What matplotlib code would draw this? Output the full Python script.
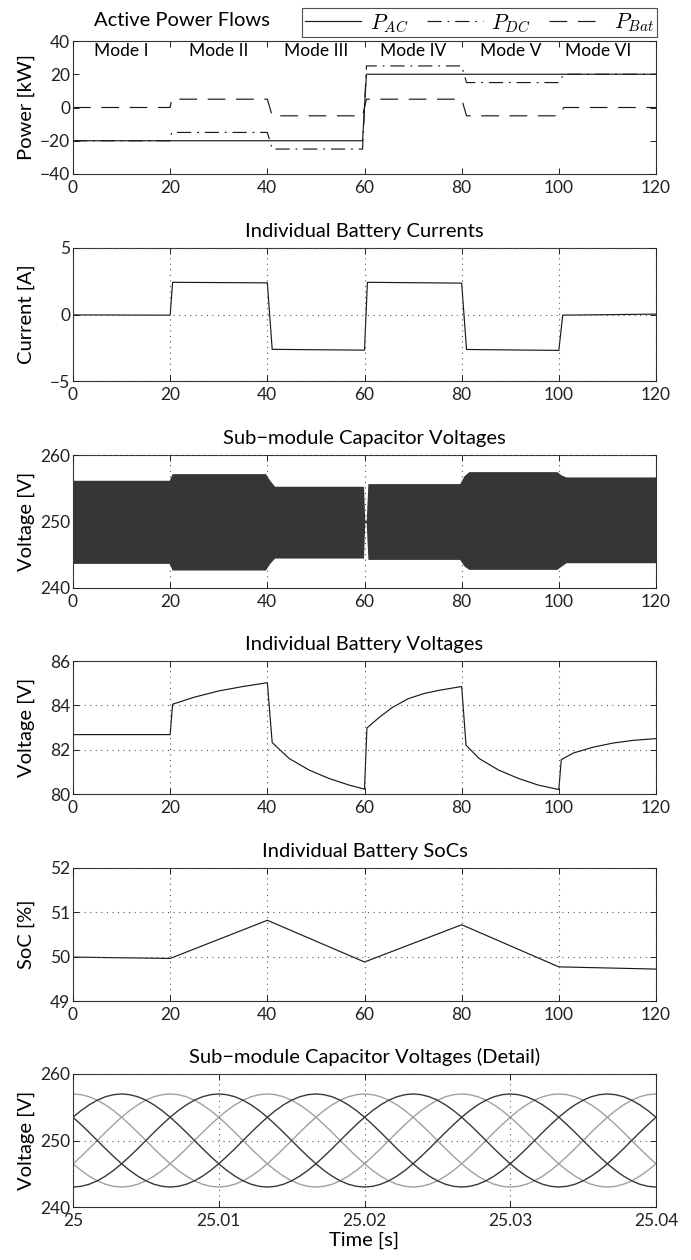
import numpy as np
import matplotlib
matplotlib.use("Agg")
import matplotlib.pyplot as plt

# ---------------- data ----------------
# Panel 1: active power flows [kW]
t_pac = [0, 59.6, 60.4, 120]
p_ac = [-20, -20, 20, 20]
t_pdc = [0, 20, 20.3, 40, 41, 59.6, 60.4, 80, 81, 100, 101, 120]
p_dc = [-20, -20, -15, -15, -25, -25, 25, 25, 15, 15, 20, 20]
t_pbat = [0, 20, 20.3, 40, 41, 59.6, 60.4, 80, 81, 100, 101, 120]
p_bat = [0, 0, 5, 5, -5, -5, 5, 5, -5, -5, 0, 0]
mode_labels = ["Mode I", "Mode II", "Mode III", "Mode IV", "Mode V", "Mode VI"]
mode_centers = [10, 30, 50, 70, 90, 108]

# Panel 2: battery currents [A]
t_ib = [0, 20, 20.5, 40, 41, 60, 60.6, 80, 81, 100, 100.8, 120]
i_b = [-0.03, -0.05, 2.42, 2.38, -2.62, -2.68, 2.42, 2.36, -2.63, -2.70, -0.05, 0.03]

# Panel 3: capacitor voltage envelope [V]
t_cap = [0, 19.8, 20.4, 39.6, 40.5, 41.5, 59.8, 60.05, 60.35, 60.7, 79.6, 80.5, 81.5,
         99.6, 100.5, 101.5, 120]
cap_hi = [256.2, 256.2, 257.2, 257.2, 256.2, 255.3, 255.3, 250.2, 250.2, 255.7, 255.7,
          256.9, 257.5, 257.5, 257.0, 256.7, 256.7]
cap_lo = [243.7, 243.7, 242.7, 242.7, 243.7, 244.5, 244.5, 249.8, 249.8, 244.3, 244.3,
          243.3, 242.8, 242.8, 243.3, 243.8, 243.8]

# Panel 4: battery voltages [V]
t_vb = [0, 20, 20.5, 25, 30, 35, 40, 41, 44.5, 48.6, 52.7, 56.7, 60, 60.5, 63, 65.7,
        69, 72.2, 75.4, 80, 80.9, 83.6, 87.6, 91.7, 95.8, 100, 100.5, 103, 107.2, 111.2,
        115.3, 120]
v_b = [82.68, 82.68, 84.05, 84.37, 84.65, 84.85, 85.02, 82.32, 81.6, 81.08, 80.7, 80.41,
       80.22, 82.98, 83.45, 83.9, 84.3, 84.53, 84.68, 84.85, 82.2, 81.6, 81.08, 80.7,
       80.4, 80.2, 81.55, 81.85, 82.12, 82.3, 82.42, 82.5]

# Panel 5: SoC [%]
t_soc = [0, 20, 40, 60, 80, 100, 120]
soc = [49.99, 49.96, 50.82, 49.88, 50.72, 49.77, 49.72]

# Panel 6: detail of capacitor voltages, one period (10 deg steps, from peak)
wave = [257.00, 256.89, 256.58, 256.06, 255.36, 254.50, 253.50, 252.39, 251.22, 250.00,
        248.78, 247.61, 246.50, 245.50, 244.64, 243.94, 243.42, 243.11, 243.00, 243.11,
        243.42, 243.94, 244.64, 245.50, 246.50, 247.61, 248.78, 250.00, 251.22, 252.39,
        253.50, 254.50, 255.36, 256.06, 256.58, 256.89]
light_offsets = [0, 12, 24]
dark_offsets = [6, 18, 30]
detail_ticks = [25, 25.01, 25.02, 25.03, 25.04]
detail_ticklabels = ["25", "25.01", "25.02", "25.03", "25.04"]

# ---------------- style ----------------
plt.rcParams['font.family'] = ['Lato', 'DejaVu Sans']
plt.rcParams['mathtext.fontset'] = 'cm'
plt.rcParams['axes.unicode_minus'] = True

W, H = 691, 1260
fig = plt.figure(figsize=(W / 100, H / 100), dpi=100)

left = 73 / W
width = 583 / W
ph = 133 / H
tops = [41, 248, 455, 661, 868, 1074]
LC = '#1a1a1a'
LW = 0.85
TICK = 12.5
TITLE = 14.5
YLAB = 14.5


def make_ax(top, grid=True):
    ax = fig.add_axes([left, 1 - (top + 133) / H, width, ph])
    ax.tick_params(direction='in', top=True, right=True, length=4, width=0.7,
                   labelsize=TICK, colors='#222222')
    ax.tick_params(axis='x', pad=4)
    ax.tick_params(axis='y', pad=2)
    for s in ax.spines.values():
        s.set_linewidth(0.8)
        s.set_color('#333333')
    if grid:
        ax.grid(True, linestyle=(0, (1, 4)), color='0.35', linewidth=0.8)
    ax.set_axisbelow(False)
    ax.yaxis.set_label_coords(-0.066, 0.5)
    return ax


# Panel 1
ax1 = make_ax(tops[0], grid=False)
l_ac, = ax1.plot(t_pac, p_ac, color=LC, lw=LW, label=r'$P_{AC}$')
l_dc, = ax1.plot(t_pdc, p_dc, color=LC, lw=LW, linestyle=(0, (12, 5, 1.5, 5)),
                 label=r'$P_{DC}$')
l_bat, = ax1.plot(t_pbat, p_bat, color=LC, lw=LW, linestyle=(0, (15, 9)),
                  label=r'$P_{Bat}$')
for xc, lab in zip(mode_centers, mode_labels):
    ax1.text(xc, 39, lab, ha='center', va='top', fontsize=TICK)
ax1.set_xlim(0, 120)
ax1.set_ylim(-40, 40)
ax1.set_xticks(range(0, 121, 20))
ax1.set_yticks(range(-40, 41, 20))
ax1.set_ylabel('Power [kW]', fontsize=YLAB)
fig.text(182 / W, 1 - 21 / H, 'Active Power Flows', ha='center', va='center',
         fontsize=TITLE)
leg = fig.legend(handles=[l_ac, l_dc, l_bat], loc='lower left',
                 bbox_to_anchor=(302 / W, 1 - 37 / H, 355 / W, 32 / H), mode='expand',
                 ncol=3, fancybox=False, edgecolor='#222222', fontsize=15.5,
                 handlelength=2.6, borderaxespad=0, borderpad=0.15,
                 handletextpad=0.4, columnspacing=0.6)
leg.get_frame().set_linewidth(0.8)

# Panel 2
ax2 = make_ax(tops[1])
ax2.plot(t_ib, i_b, color=LC, lw=LW)
ax2.set_xlim(0, 120)
ax2.set_ylim(-5, 5)
ax2.set_xticks(range(0, 121, 20))
ax2.set_yticks([-5, 0, 5])
ax2.set_ylabel('Current [A]', fontsize=YLAB)
ax2.set_title('Individual Battery Currents', fontsize=TITLE, pad=8)

# Panel 3
ax3 = make_ax(tops[2])
ax3.fill_between(t_cap, cap_lo, cap_hi, color='#363636', lw=0, zorder=3)
ax3.set_xlim(0, 120)
ax3.set_ylim(240, 260)
ax3.set_xticks(range(0, 121, 20))
ax3.set_yticks([240, 250, 260])
ax3.set_ylabel('Voltage [V]', fontsize=YLAB)
ax3.set_title('Sub\u2212module Capacitor Voltages', fontsize=TITLE, pad=8)

# Panel 4
ax4 = make_ax(tops[3])
ax4.plot(t_vb, v_b, color=LC, lw=LW)
ax4.set_xlim(0, 120)
ax4.set_ylim(80, 86)
ax4.set_xticks(range(0, 121, 20))
ax4.set_yticks([80, 82, 84, 86])
ax4.set_ylabel('Voltage [V]', fontsize=YLAB)
ax4.set_title('Individual Battery Voltages', fontsize=TITLE, pad=8)

# Panel 5
ax5 = make_ax(tops[4])
ax5.plot(t_soc, soc, color=LC, lw=LW)
ax5.set_xlim(0, 120)
ax5.set_ylim(49, 52)
ax5.set_xticks(range(0, 121, 20))
ax5.set_yticks([49, 50, 51, 52])
ax5.set_ylabel('SoC [%]', fontsize=YLAB)
ax5.set_title('Individual Battery SoCs', fontsize=TITLE, pad=8)

# Panel 6
ax6 = make_ax(tops[5])
n = len(wave)
k = np.arange(2 * n + 1)
t6 = 25 + k * (0.02 / n)
wv = np.array(wave)
for off in light_offsets:
    ax6.plot(t6, wv[(k - off) % n], color='#a0a0a0', lw=1.0)
for off in dark_offsets:
    ax6.plot(t6, wv[(k - off) % n], color='#383838', lw=1.0)
ax6.set_xlim(25, 25.04)
ax6.set_ylim(240, 260)
ax6.set_xticks(detail_ticks)
ax6.set_xticklabels(detail_ticklabels)
ax6.set_yticks([240, 250, 260])
ax6.set_ylabel('Voltage [V]', fontsize=YLAB)
ax6.set_xlabel('Time [s]', fontsize=YLAB, labelpad=2)
ax6.set_title('Sub\u2212module Capacitor Voltages (Detail)', fontsize=TITLE, pad=8)

fig.savefig('out.png', dpi=100)
